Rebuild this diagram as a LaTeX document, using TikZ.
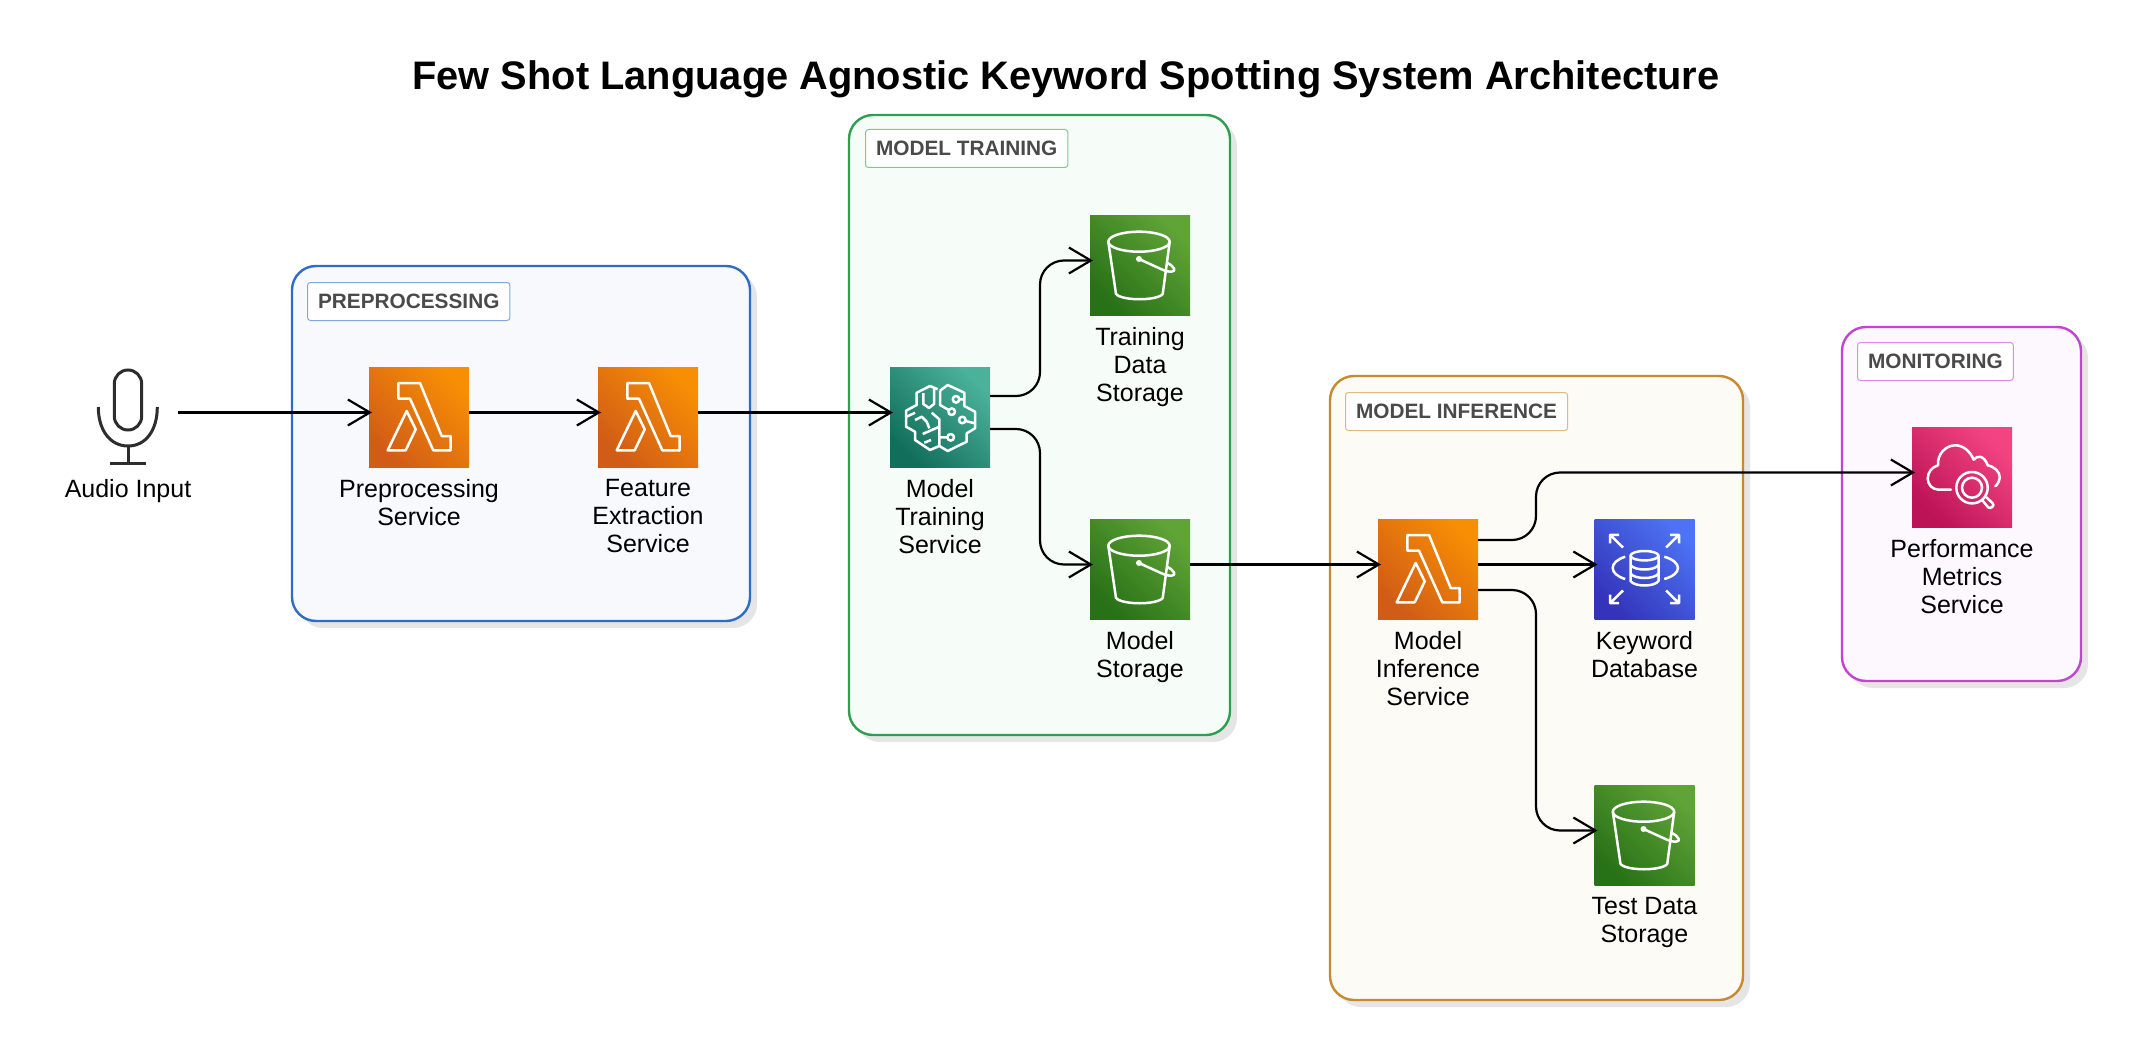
\documentclass[tikz,border=0pt]{standalone}
\usepackage{fontspec}
\setmainfont{Liberation Sans}
\usetikzlibrary{arrows.meta,shadows}

\definecolor{lambdalo}{HTML}{C8511B}
\definecolor{lambdahi}{HTML}{FF9900}
\definecolor{bucketlo}{HTML}{1B660F}
\definecolor{buckethi}{HTML}{6CAE3E}
\definecolor{brainlo}{HTML}{055F4E}
\definecolor{brainhi}{HTML}{56C0A7}
\definecolor{dblo}{HTML}{2E27AD}
\definecolor{dbhi}{HTML}{527FFF}
\definecolor{cloudlo}{HTML}{B0084D}
\definecolor{cloudhi}{HTML}{FF4F8B}
\definecolor{prepline}{HTML}{2F6CC4}
\definecolor{prepfill}{HTML}{F7F9FD}
\definecolor{trainline}{HTML}{2E9E50}
\definecolor{trainfill}{HTML}{F6FDF8}
\definecolor{inferline}{HTML}{C88A2E}
\definecolor{inferfill}{HTML}{FCFBF6}
\definecolor{monline}{HTML}{C244D2}
\definecolor{monfill}{HTML}{FCF8FE}
\definecolor{badgetext}{HTML}{4A4A4A}
\definecolor{micdark}{HTML}{2D2D2D}

\tikzset{
	glyph/.style={draw=white,line width=2.5pt,line join=round},
	lambdaglyph/.pic={
		\draw[glyph] (-20.7,-34) -- (1,-34) -- (22.7,19) -- (31.7,19) -- (31.7,33.3) -- (14.3,33.3) -- (-9,-18.3) -- (-20.7,-18.3) -- cycle;
		\draw[glyph] (-12.3,-6) -- (-3.3,12.3) -- (-13.3,33.3) -- (-31.3,33.3) -- cycle;
	},
	bucketglyph/.pic={
		\draw[glyph] (-1,-23.3) ellipse [x radius=30.7, y radius=10];
		\draw[glyph] (-31.7,-23.3) -- (-24,29) .. controls (-18,36) and (17,36) .. (22.7,29) -- (29.7,-23.3);
		\draw[glyph] (-1,-6) -- (22,4.5) .. controls (30,8) and (36,7) .. (34,3.5) .. controls (32.5,1) and (30,-1) .. (27.5,-2);
		\fill[white] (-1,-6) circle (3);
	},
	brainglyph/.pic={
		\draw[glyph] (0,-26.3) -- (7.7,-32) -- (24.3,-24.3) -- (24.3,-11) -- (35,-5.3) -- (35,11.3) -- (26.7,16.3) -- (26.7,24.7) -- (7.7,34) -- (-0.7,29) -- (-10,33) -- (-25,23) -- (-25,14.7) -- (-34,9.7) -- (-34,-6.3) -- (-23.3,-12) -- (-23.3,-24.3) -- (-10,-31) -- (-2.3,-27.7);
		\draw[glyph] (0,-26.3) -- (0,-12) -- (8.8,-7);
		\draw[glyph] (11.7,-5.3) circle (3.3);
		\draw[glyph] (16,-17.7) circle (3.3) (19.3,-17.7) -- (24.3,-17.7);
		\draw[glyph] (22.3,3) circle (3.3) (25.3,4) -- (35,6.3);
		\draw[glyph] (10.7,20.3) circle (3.3) (7.4,20.3) -- (-0.7,20.3);
		\draw[glyph] (-8.3,-4.3) -- (-0.7,2.3) -- (-0.7,29);
		\draw[glyph] (-16.7,-24) -- (-16.7,-13) -- (-11,-9) -- (-6,-13) -- (-6,-29);
		\draw[glyph] (-34,0) -- (-25,-4.3) (-25,3) -- (-18.3,-0.3) -- (-13.3,4.7) -- (-10.7,11.3);
		\draw[glyph] (-17.3,17) -- (-0.7,9.7) (-15.7,25.7) -- (-9,23);
	},
	dbglyph/.pic={
		\draw[glyph] (0,-13.3) ellipse [x radius=14, y radius=4.7];
		\draw[glyph] (-14,-13.3) -- (-14,12) .. controls (-10,18) and (10,18) .. (14,12) -- (14,-13.3);
		\draw[glyph] (-14,-4) .. controls (-10,2) and (10,2) .. (14,-4);
		\draw[glyph] (-14,4.5) .. controls (-10,10.5) and (10,10.5) .. (14,4.5);
		\draw[glyph] (-19.3,-12.3) .. controls (-36,-7) and (-36,5) .. (-19.3,10);
		\draw[glyph] (19.7,-12.3) .. controls (38,-7) and (38,5) .. (19.7,10);
		\foreach \sx/\sy in {-1/-1,1/-1,-1/1,1/1}
			\draw[glyph] (\sx*21.5,\sy*21.5) -- (\sx*34.5,\sy*34.2) (\sx*34.5,\sy*25.7) -- (\sx*34.5,\sy*34.2) -- (\sx*25.5,\sy*34.2);
	},
	cloudglyph/.pic={
		\draw[glyph,line cap=round] (-11,12.7) -- (-23.3,12.7) .. controls (-30,12.7) and (-34.3,7) .. (-34.3,1.7) .. controls (-34.3,-5) and (-30,-10) .. (-24,-11.7) .. controls (-25,-23) and (-16,-31.7) .. (-6.7,-31.7) .. controls (1,-31.7) and (8,-26) .. (11.7,-17.3) .. controls (15,-22) and (22,-22) .. (25.7,-11.7) .. controls (33,-10) and (37.7,-5) .. (37.7,0) .. controls (37.7,3) and (36,7) .. (33.3,9.3);
		\draw[glyph] (10,10.7) circle (15.7) (10,10.7) circle (10);
		\draw[glyph,rounded corners=2.5pt] (20.5,23.5) -- (27.5,32) -- (32.5,28) -- (24,20);
	},
}

\begin{document}
\begin{tikzpicture}[x=1pt, y=-1pt,
	icon/.style={minimum size=100pt,inner sep=0pt,outer sep=0pt,shade},
	lambdafill/.style={icon,bottom color=lambdalo!85!lambdahi,top color=lambdahi!85!lambdalo,shading angle=-45},
	bucketfill/.style={icon,bottom color=bucketlo!85!buckethi,top color=buckethi!85!bucketlo,shading angle=-45},
	brainfill/.style={icon,bottom color=brainlo!85!brainhi,top color=brainhi!85!brainlo,shading angle=-45},
	dbfill/.style={icon,bottom color=dblo!85!dbhi,top color=dbhi!85!dblo,shading angle=-45},
	cloudfill/.style={icon,bottom color=cloudlo!85!cloudhi,top color=cloudhi!85!cloudlo,shading angle=-45},
	groupbox/.style={rectangle,rounded corners=24pt,line width=2.4pt,inner sep=0pt,outer sep=0pt,
		drop shadow={shadow xshift=7pt,shadow yshift=-7pt,fill=black!10,opacity=1}},
	badge/.style={rectangle,rounded corners=3pt,fill=white,line width=1pt,anchor=north west,inner xsep=10.5pt,inner ysep=0pt,
		minimum height=38pt,text=badgetext,font=\bfseries\fontsize{20.8}{24}\selectfont},
	lbl/.style={anchor=north,align=center,inner sep=0pt,yshift=-12pt,font=\fontsize{25}{28}\selectfont},
	conn/.style={line width=2.2pt,rounded corners=24pt,shorten >=-3pt,-{Straight Barb[length=22pt,width=26pt,line width=2.2pt]}},
	]
	\useasboundingbox (0,0) rectangle (2132,1051);

	\node(title) at (1066,79) {\bfseries\fontsize{39.8}{46}\selectfont Few Shot Language Agnostic Keyword Spotting System Architecture};

	% groups
	\node[groupbox,draw=prepline,fill=prepfill,minimum width=458pt,minimum height=355pt](prepgroup) at (521,443.5) {};
	\node[groupbox,draw=trainline,fill=trainfill,minimum width=381pt,minimum height=620pt](traingroup) at (1039.5,425) {};
	\node[groupbox,draw=inferline,fill=inferfill,minimum width=413pt,minimum height=624pt](infergroup) at (1536.5,688) {};
	\node[groupbox,draw=monline,fill=monfill,minimum width=239pt,minimum height=354pt](mongroup) at (1961.5,504) {};

	\node[badge,draw=prepline!60!white](prepbadge) at (307,282) {PREPROCESSING};
	\node[badge,draw=trainline!60!white](trainbadge) at (865,129) {MODEL TRAINING};
	\node[badge,draw=inferline!60!white](inferbadge) at (1345,392) {MODEL INFERENCE};
	\node[badge,draw=monline!60!white](monbadge) at (1857,342) {MONITORING};

	% audio input
	\node[minimum size=100pt,inner sep=0pt,outer sep=0pt](audio) at (128,417) {};
	\draw[micdark,line width=3pt,rounded corners=13.7pt] (114.3,370) rectangle (141.7,430);
	\draw[micdark,line width=3pt] (98.3,407) .. controls (98.3,430) and (110,446) .. (128,446) .. controls (146,446) and (157.3,430) .. (157.3,407);
	\draw[micdark,line width=3pt] (128,446) -- (128,463) (110,463) -- (146,463);

	% services and storage
	\node[lambdafill](prep) at (419,417) {};
	\node[lambdafill](feature) at (648,417) {};
	\node[brainfill](train) at (940,417) {};
	\node[bucketfill](trainstore) at (1140,265) {};
	\node[bucketfill](modelstore) at (1140,569) {};
	\node[lambdafill](infer) at (1428,569) {};
	\node[dbfill](keyword) at (1644.5,569) {};
	\node[bucketfill](teststore) at (1644.5,835) {};
	\node[cloudfill](perf) at (1962,477) {};

	\pic at (prep) {lambdaglyph};
	\pic at (feature) {lambdaglyph};
	\pic at (train) {brainglyph};
	\pic at (trainstore) {bucketglyph};
	\pic at (modelstore) {bucketglyph};
	\pic at (infer) {lambdaglyph};
	\pic at (keyword) {dbglyph};
	\pic at (teststore) {bucketglyph};
	\pic at (perf) {cloudglyph};

	\node[lbl](audiolbl) at (audio.south) {Audio Input};
	\node[lbl](preplbl) at (prep.south) {Preprocessing\\Service};
	\node[lbl](featurelbl) at (feature.south) {Feature\\Extraction\\Service};
	\node[lbl](trainlbl) at (train.south) {Model\\Training\\Service};
	\node[lbl](trainstorelbl) at (trainstore.south) {Training\\Data\\Storage};
	\node[lbl](modelstorelbl) at (modelstore.south) {Model\\Storage};
	\node[lbl](inferlbl) at (infer.south) {Model\\Inference\\Service};
	\node[lbl](keywordlbl) at (keyword.south) {Keyword\\Database};
	\node[lbl](teststorelbl) at (teststore.south) {Test Data\\Storage};
	\node[lbl](perflbl) at (perf.south) {Performance\\Metrics\\Service};

	% connectors
	\draw[conn] ([yshift=4.5pt]audio.east) -- ([yshift=4.5pt]prep.west);
	\draw[conn] ([yshift=4.5pt]prep.east) -- ([yshift=4.5pt]feature.west);
	\draw[conn] ([yshift=4.5pt]feature.east) -- ([yshift=4.5pt]train.west);
	\draw[conn] ([yshift=21pt]train.east) -- ++(50,0) |- ([yshift=4.5pt]trainstore.west);
	\draw[conn] ([yshift=-12pt]train.east) -- ++(50,0) |- ([yshift=4.5pt]modelstore.west);
	\draw[conn] ([yshift=4.5pt]modelstore.east) -- ([yshift=4.5pt]infer.west);
	\draw[conn] ([yshift=29pt]infer.east) -- ++(58,0) |- ([yshift=4.5pt]perf.west);
	\draw[conn] ([yshift=4.5pt]infer.east) -- ([yshift=4.5pt]keyword.west);
	\draw[conn] ([yshift=-21pt]infer.east) -- ++(58,0) |- ([yshift=4.5pt]teststore.west);
\end{tikzpicture}
\end{document}
